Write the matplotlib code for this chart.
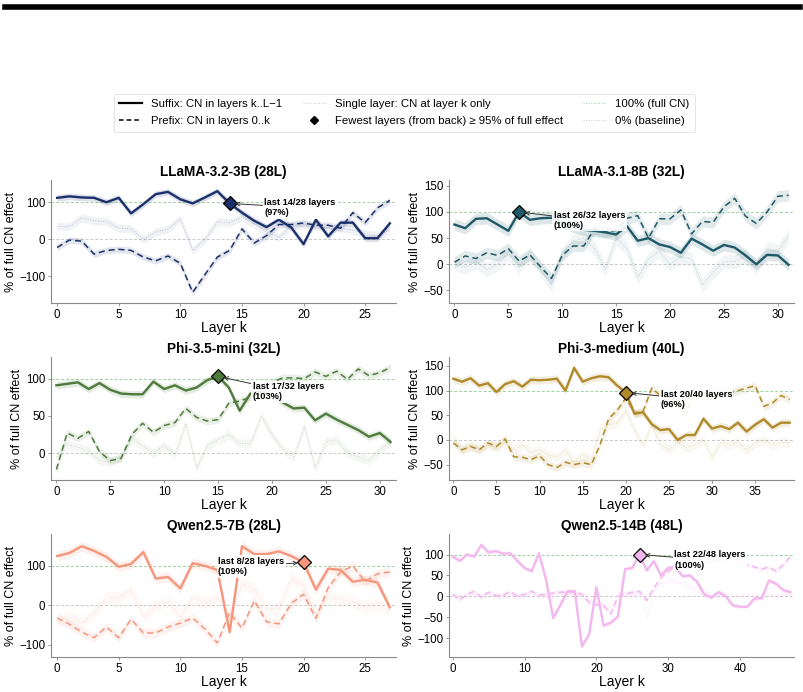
import numpy as np
import matplotlib
matplotlib.use('Agg')
import matplotlib.pyplot as plt
from matplotlib.lines import Line2D

plt.rcParams['font.family'] = ['Liberation Sans', 'DejaVu Sans']

# ---- data ----
models = ['LLaMA-3.2-3B', 'LLaMA-3.1-8B', 'Phi-3.5-mini', 'Phi-3-medium', 'Qwen2.5-7B', 'Qwen2.5-14B']
colors = ['#1b2f6b', '#1f5866', '#4e7a3b', '#b08a2a', '#f5967c', '#f4b6ee']

suffix_llama3b = [112, 116, 113, 112, 100, 112, 70, 95, 122, 128, 108, 97, 113, 130, 97, 72,
                  50, 33, 53, 32, -13, 53, 8, 45, 45, 3, 3, 43]
prefix_llama3b = [-22, -2, -5, -40, -30, -27, -30, -48, -58, -45, -65, -143, -95, -48, -30, 28,
                  -10, 10, 40, 40, 44, 38, 38, 30, 72, 45, 85, 105]
single_llama3b = [35, 35, 58, 50, 48, 30, 28, 0, 20, 28, 55, -30, 0, 48, 45, 60,
                  40, 20, 5, 35, 40, 35, 30, 30, 25, 15, 10, 25]

suffix_llama8b = [76, 69, 87, 88, 76, 64, 100, 85, 88, 89, 80, 72, 66, 64, 61, 57,
                  73, 45, 50, 38, 33, 22, 49, 38, 26, 37, 32, 17, 0, 18, 17, -1]
prefix_llama8b = [4, 16, 11, 22, 17, 30, 6, 18, -5, -27, 17, 35, 35, 68, 62, 65,
                  88, 93, 50, 87, 87, 104, 58, 82, 80, 110, 126, 92, 78, 100, 130, 132]
single_llama8b = [0, -5, 5, -10, 0, 20, -5, 20, -10, -40, 20, 45, 50, 30, -10, 50,
                  30, -25, 10, 25, 0, 15, 10, -40, -15, 5, 5, 15, -5, 30, 25, 55]

suffix_phi35 = [91, 93, 95, 86, 94, 85, 80, 79, 79, 96, 86, 91, 84, 88, 98, 103,
                88, 57, 80, 82, 78, 68, 60, 61, 44, 53, 45, 38, 31, 22, 27, 15]
prefix_phi35 = [-22, 27, 20, 29, 2, -10, -7, 25, 40, 28, 37, 41, 60, 48, 43, 45,
                67, 70, 75, 85, 95, 101, 101, 100, 109, 103, 110, 99, 113, 104, 108, 115]
single_phi35 = [-5, 12, 8, 3, -10, -12, -5, 20, 10, 0, 10, -2, 40, -20, 10, 18,
                25, 13, 13, 50, 25, 5, -5, 36, -20, 15, 18, 0, -5, -10, 5, 15]

suffix_phi3m = [124, 118, 125, 110, 115, 97, 113, 119, 108, 122, 121, 122, 124, 100, 146, 118,
                125, 129, 127, 110, 96, 53, 56, 32, 20, 22, 0, 10, 10, 43, 23, 28,
                22, 35, 17, 31, 42, 25, 35, 35]
prefix_phi3m = [-6, -20, -13, -20, -6, -13, 2, -34, -35, -40, -32, -50, -56, -45, -50, -46,
                -50, -10, 43, 60, 85, 55, 58, 105, 90, 85, 80, 60, 90, 95, 90, 92,
                95, 100, 105, 110, 68, 75, 90, 82]
single_phi3m = [5, -20, -12, -18, -10, -15, -5, -20, -10, -25, -20, -30, -35, -20, -45, -30,
                -40, 20, 30, 35, 60, 20, -10, 30, -10, -20, -5, -15, -10, 0, -35, -5,
                -10, -5, -20, -5, 0, -10, -5, -5]

suffix_qwen7b = [125, 133, 150, 138, 123, 98, 105, 135, 68, 72, 43, 107, 100, 90, -68, 150,
                 130, 130, 137, 125, 109, 40, 93, 90, 60, 65, 58, -5]
prefix_qwen7b = [-32, -48, -68, -82, -55, -82, -35, -70, -70, -55, -45, -32, -60, -95, -18, -58,
                 12, -42, -47, 5, 28, -33, 45, 85, 100, 60, 80, 85]
single_qwen7b = [-40, -30, -45, -20, 20, 20, 40, -30, 0, 10, -30, 20, 5, 20, -30, 55,
                 40, -10, -10, 70, 50, -20, 20, 15, 10, -5, 5, -15]

suffix_qwen14b = [95, 85, 100, 95, 123, 105, 108, 102, 103, 85, 68, 60, 103, 40, -52, -20,
                  12, 12, -120, -90, 22, -70, -63, -48, 65, 68, 100, 62, 84, 50, 68, 70,
                  48, 50, 35, 5, -3, 10, 0, -22, -25, -25, -5, -5, 38, 30, 15, 10]
prefix_qwen14b = [5, -8, 5, 12, -2, 10, 2, 2, 12, 0, 5, 12, 3, 5, 8, 10,
                  10, 10, 5, -15, -20, -22, -42, 0, 5, 10, 12, -10, 20, 45, 60, 70,
                  65, 70, 75, 80, 85, 85, 88, 90, 85, 75, 70, 65, 70, 60, 75, 95]
single_qwen14b = [2, -3, 4, 6, 0, 5, 0, 2, 4, 0, 3, 6, 0, 4, 5, 8,
                  6, 5, 0, -10, -15, -20, -25, 5, 8, 0, 10, -50, 15, 30, 40, 35,
                  30, 20, 15, 10, 5, 8, 5, 0, 2, 0, 5, 3, 5, 0, 4, 2]

suffix_all = [suffix_llama3b, suffix_llama8b, suffix_phi35, suffix_phi3m, suffix_qwen7b, suffix_qwen14b]
prefix_all = [prefix_llama3b, prefix_llama8b, prefix_phi35, prefix_phi3m, prefix_qwen7b, prefix_qwen14b]
single_all = [single_llama3b, single_llama8b, single_phi35, single_phi3m, single_qwen7b, single_qwen14b]

# half-width of the shaded bands
band_width = [9, 11, 5, 8, 12, 6]

# fewest-layers point: layer k and percentage
best_k = [14, 6, 15, 20, 20, 26]
best_pct = [97, 100, 103, 96, 109, 100]

ylims = [(-172, 160), (-74, 161), (-36, 129), (-81, 168), (-131, 181), (-145, 149)]
yticks = [[-100, 0, 100], [-50, 0, 50, 100, 150], [0, 50, 100],
          [-50, 0, 50, 100, 150], [-100, 0, 100], [-100, -50, 0, 50, 100]]
xticks_step = [5, 5, 5, 5, 5, 10]
# annotation offsets (points)
ann_offset = [(25, -3), (25, -6), (25, -11), (25, -5), (-14, -3), (25, -4)]

# ---- figure ----
fig = plt.figure(figsize=(8.04, 6.92), dpi=100)
fig.add_artist(Line2D([0.006, 0.995], [0.99, 0.99], lw=4, color='black', transform=fig.transFigure))

lefts = [0.0634, 0.5585]
bottoms = [0.5621, 0.3064, 0.0506]
w, h = 0.4291, 0.1777
spine_col = '#8a8a8a'

for i, name in enumerate(models):
    row, col = divmod(i, 2)
    ax = fig.add_axes([lefts[col], bottoms[row], w, h])
    suf = np.array(suffix_all[i], dtype=float)
    pre = np.array(prefix_all[i], dtype=float)
    sgl = np.array(single_all[i], dtype=float)
    L = len(suf)
    k = np.arange(L)
    c = colors[i]
    bw = band_width[i]

    ax.axhline(100, color='#9bd39b', lw=0.7, ls=(0, (3, 2)), zorder=1)
    ax.axhline(0, color='#c8c8c8', lw=0.7, ls=(0, (3, 2)), zorder=1)

    ax.fill_between(k, sgl - bw * 1.2, sgl + bw * 1.2, color=c, alpha=0.06, lw=0, zorder=2)
    ax.plot(k, sgl, color=c, alpha=0.25, lw=0.7, ls=':', zorder=3)
    ax.fill_between(k, pre - bw, pre + bw, color=c, alpha=0.12, lw=0, zorder=2)
    ax.plot(k, pre, color=c, lw=1.1, ls=(0, (4, 2.5)), zorder=4)
    ax.fill_between(k, suf - bw, suf + bw, color=c, alpha=0.15, lw=0, zorder=2)
    ax.plot(k, suf, color=c, lw=1.7, zorder=5)

    kb = best_k[i]
    ax.plot(kb, suf[kb], marker='D', ms=7.5, color=c, mec='black', mew=0.9, zorder=7)
    n_last = L - kb
    dx, dy = ann_offset[i]
    ha = 'left' if dx > 0 else 'right'
    ax.annotate(f'last {n_last}/{L} layers\n({best_pct[i]}%)', xy=(kb, suf[kb]),
                xytext=(dx, dy), textcoords='offset points', ha=ha, va='center',
                multialignment='left', fontsize=6.7, fontweight='bold',
                bbox=dict(boxstyle='square,pad=0.15', fc='white', ec='none', alpha=0.9),
                arrowprops=dict(arrowstyle='->', color='#333333', lw=0.7, shrinkA=0, shrinkB=4),
                zorder=8)

    ax.set_xlim(-0.5, L - 0.5)
    ax.set_ylim(*ylims[i])
    ax.set_yticks(yticks[i])
    ax.set_xticks(np.arange(0, L, xticks_step[i]))
    ax.set_title(f'{name} ({L}L)', fontsize=9.8, fontweight='bold', pad=3)
    ax.set_xlabel('Layer k', fontsize=10, labelpad=0)
    ax.set_ylabel('% of full CN effect', fontsize=9, labelpad=2)
    ax.tick_params(labelsize=8.3, length=2.5, width=0.6, color=spine_col, pad=1.5)
    for s in ['top', 'right']:
        ax.spines[s].set_visible(False)
    for s in ['left', 'bottom']:
        ax.spines[s].set_color(spine_col)
        ax.spines[s].set_linewidth(0.8)

handles = [
    Line2D([], [], color='black', lw=1.6),
    Line2D([], [], color='black', lw=1.1, ls=(0, (3, 2))),
    Line2D([], [], color='#cccccc', lw=0.7, ls=':'),
    Line2D([], [], color='black', marker='D', ls='none', ms=4.5),
    Line2D([], [], color='#9bd39b', lw=0.7, ls=':'),
    Line2D([], [], color='#c8c8c8', lw=0.7, ls=':'),
]
labels = ['Suffix: CN in layers k..L\u22121', 'Prefix: CN in layers 0..k',
          'Single layer: CN at layer k only', 'Fewest layers (from back) \u2265 95% of full effect',
          '100% (full CN)', '0% (baseline)']
leg = fig.legend(handles, labels, loc='center', bbox_to_anchor=(0.503, 0.837), ncol=3,
                 fontsize=8.2, frameon=True, columnspacing=1.8, handlelength=2.0,
                 borderpad=0.5, labelspacing=0.6)
leg.get_frame().set_edgecolor('#dddddd')
leg.get_frame().set_linewidth(0.7)

fig.savefig('out.png', dpi=100)
